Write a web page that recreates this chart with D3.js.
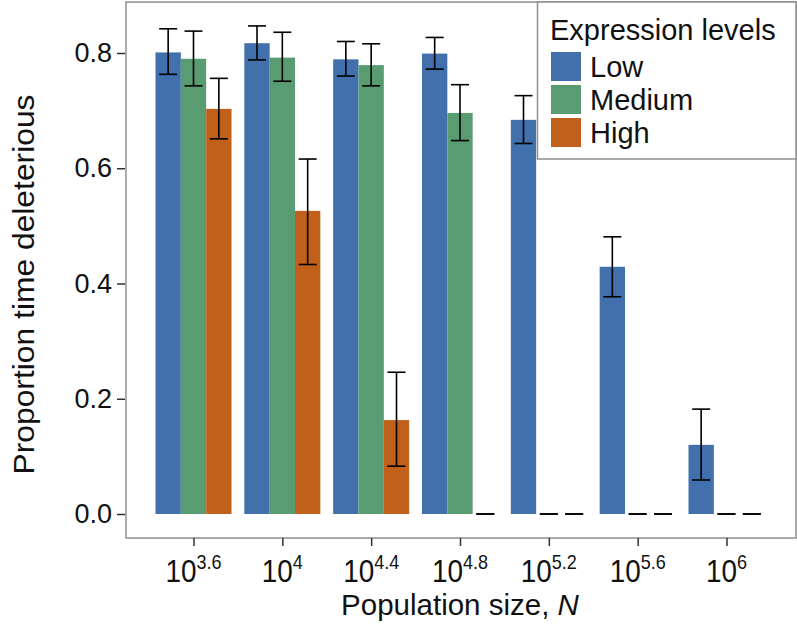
<!DOCTYPE html>
<html>
<head>
<meta charset="utf-8">
<script src="https://cdn.jsdelivr.net/npm/d3@7"></script>
<style>
  html, body { margin: 0; padding: 0; background: #fff; }
  svg { display: block; font-family: "Liberation Sans", Arial, sans-serif; }
</style>
</head>
<body>
<svg id="chart" width="797" height="630"></svg>
<script>
// ---- data ----
const categories = ["3.6", "4", "4.4", "4.8", "5.2", "5.6", "6"]; // exponents of 10
const seriesNames = ["Low", "Medium", "High"];
const lowValues = [0.801, 0.817, 0.789, 0.799, 0.684, 0.429, 0.120];
const lowLower  = [0.763, 0.788, 0.760, 0.772, 0.643, 0.377, 0.059];
const lowUpper  = [0.842, 0.847, 0.820, 0.827, 0.726, 0.481, 0.182];
const mediumValues = [0.790, 0.792, 0.779, 0.696, 0, 0, 0];
const mediumLower  = [0.743, 0.751, 0.743, 0.648, 0, 0, 0];
const mediumUpper  = [0.838, 0.836, 0.816, 0.745, 0, 0, 0];
const highValues = [0.703, 0.526, 0.163, 0, 0, 0, 0];
const highLower  = [0.651, 0.433, 0.083, 0, 0, 0, 0];
const highUpper  = [0.756, 0.616, 0.246, 0, 0, 0, 0];
const yTicks = [0.0, 0.2, 0.4, 0.6, 0.8];
const colors = ["#4170AD", "#599C72", "#C0601A"];

const seriesData = [
  {name: "Low", values: lowValues, lower: lowLower, upper: lowUpper},
  {name: "Medium", values: mediumValues, lower: mediumLower, upper: mediumUpper},
  {name: "High", values: highValues, lower: highLower, upper: highUpper}
];

// ---- layout ----
const panel = {left: 126, right: 796, top: 2, bottom: 538};
const svg = d3.select("#chart");

const x = d3.scalePoint().domain(categories).range([193.5, 726.5]);
const groupWidth = 76;
const xInner = d3.scaleBand().domain(seriesNames).range([-groupWidth / 2, groupWidth / 2]).padding(0);
const y = d3.scaleLinear().domain([0, 0.8]).range([514, 53]);
const color = d3.scaleOrdinal().domain(seriesNames).range(colors);

// panel background
svg.append("rect")
  .attr("x", panel.left).attr("y", panel.top)
  .attr("width", panel.right - panel.left).attr("height", panel.bottom - panel.top)
  .attr("fill", "#fff");

// bars
const rows = [];
seriesData.forEach(s => {
  categories.forEach((c, i) => {
    rows.push({series: s.name, cat: c, v: s.values[i], lo: s.lower[i], hi: s.upper[i]});
  });
});

svg.append("g").selectAll("rect").data(rows.filter(d => d.v > 0)).join("rect")
  .attr("x", d => x(d.cat) + xInner(d.series))
  .attr("width", xInner.bandwidth())
  .attr("y", d => y(d.v))
  .attr("height", d => y(0) - y(d.v))
  .attr("fill", d => color(d.series));

// error bars
const whisker = 9;
const eg = svg.append("g").attr("stroke", "#000").attr("stroke-width", 1.6).attr("fill", "none");
rows.forEach(d => {
  const cx = x(d.cat) + xInner(d.series) + xInner.bandwidth() / 2;
  eg.append("line").attr("x1", cx).attr("x2", cx).attr("y1", y(d.lo)).attr("y2", y(d.hi));
  eg.append("line").attr("x1", cx - whisker).attr("x2", cx + whisker).attr("y1", y(d.lo)).attr("y2", y(d.lo));
  eg.append("line").attr("x1", cx - whisker).attr("x2", cx + whisker).attr("y1", y(d.hi)).attr("y2", y(d.hi));
});

// panel border
svg.append("rect")
  .attr("x", panel.left).attr("y", panel.top)
  .attr("width", panel.right - panel.left).attr("height", panel.bottom - panel.top)
  .attr("fill", "none").attr("stroke", "#8f8f8f").attr("stroke-width", 1.5);

// y axis
const yAxis = d3.axisLeft(y).tickValues(yTicks).tickFormat(d3.format(".1f")).tickSize(8).tickPadding(5);
const yg = svg.append("g").attr("transform", `translate(${panel.left - 1},0)`).call(yAxis);
yg.select(".domain").remove();
yg.selectAll(".tick line").attr("stroke", "#333").attr("stroke-width", 1.5);
yg.selectAll(".tick text").attr("font-size", 27).attr("fill", "#111")
  .attr("font-family", "'Liberation Sans', Arial, sans-serif");

// x axis
const xAxis = d3.axisBottom(x).tickSize(8).tickFormat("");
const xg = svg.append("g").attr("transform", `translate(0,${panel.bottom})`).call(xAxis);
xg.select(".domain").remove();
xg.selectAll(".tick line").attr("stroke", "#333").attr("stroke-width", 1.5);

const xl = svg.append("g").attr("fill", "#111");
categories.forEach(c => {
  const t = xl.append("text")
    .attr("transform", `translate(${x(c)},582) scale(0.9,1)`)
    .attr("text-anchor", "middle")
    .attr("font-size", 31);
  t.append("tspan").text("10");
  t.append("tspan").attr("dy", -13).attr("font-size", 20).text(c);
});

// axis titles
const xt = svg.append("text")
  .attr("transform", `translate(${(panel.left + panel.right) / 2 - 1},615)`)
  .attr("text-anchor", "middle").attr("font-size", 29.5).attr("fill", "#111");
xt.append("tspan").text("Population size, ");
xt.append("tspan").attr("font-style", "italic").text("N");

svg.append("text")
  .attr("transform", `translate(34,${(y(0) + y(0.8)) / 2 + 1}) rotate(-90) scale(1.06,1)`)
  .attr("text-anchor", "middle").attr("font-size", 30).attr("fill", "#111")
  .text("Proportion time deleterious");

// legend
const lg = svg.append("g");
lg.append("rect")
  .attr("x", 537.5).attr("y", 2).attr("width", 258.5).attr("height", 157)
  .attr("fill", "#fff").attr("stroke", "#8f8f8f").attr("stroke-width", 1.5);
lg.append("text").attr("x", 550).attr("y", 40).attr("font-size", 29).attr("fill", "#111")
  .text("Expression levels");
seriesNames.forEach((s, i) => {
  const ky = 52 + i * 33;
  lg.append("rect").attr("x", 551).attr("y", ky).attr("width", 30).attr("height", 29)
    .attr("fill", color(s));
  lg.append("text").attr("x", 590).attr("y", ky + 25).attr("font-size", 29).attr("fill", "#111")
    .text(s);
});
</script>
</body>
</html>
